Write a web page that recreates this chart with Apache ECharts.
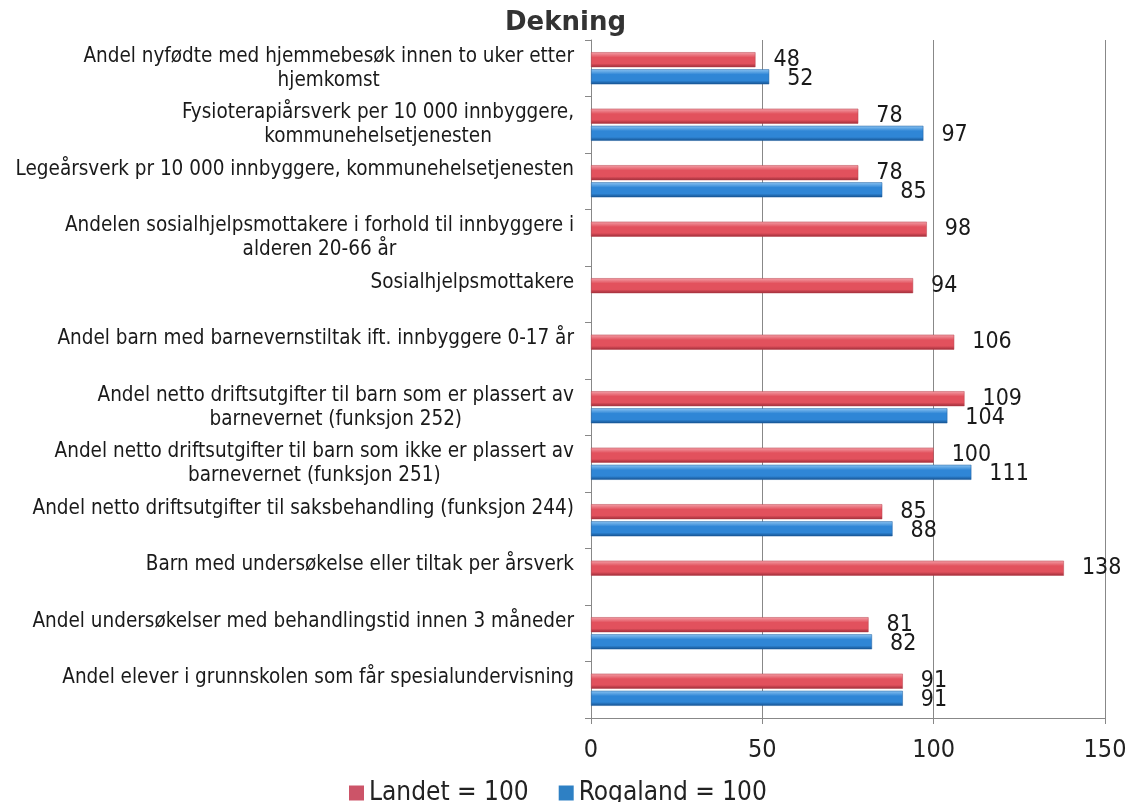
<!DOCTYPE html>
<html>
<head>
<meta charset="utf-8">
<script src="https://cdn.jsdelivr.net/npm/echarts@6/dist/echarts.min.js"></script>
<style>
    html, body {margin: 0; padding: 0; background: #fff;}
    #chart {width: 1130px; height: 802px;}
</style>
</head>
<body>
<div id="chart"></div>
<script>
// kategorier, ovenfra og ned
var categories = [
    'Andel nyfødte med hjemmebesøk innen to uker etter\nhjemkomst',
    'Fysioterapiårsverk per 10 000 innbyggere,\nkommunehelsetjenesten',
    'Legeårsverk pr 10 000 innbyggere, kommunehelsetjenesten',
    'Andelen sosialhjelpsmottakere i forhold til innbyggere i\nalderen 20-66 år',
    'Sosialhjelpsmottakere',
    'Andel barn med barnevernstiltak ift. innbyggere 0-17 år',
    'Andel netto driftsutgifter til barn som er plassert av\nbarnevernet (funksjon 252)',
    'Andel netto driftsutgifter til barn som ikke er plassert av\nbarnevernet (funksjon 251)',
    'Andel netto driftsutgifter til saksbehandling (funksjon 244)',
    'Barn med undersøkelse eller tiltak per årsverk',
    'Andel undersøkelser med behandlingstid innen 3 måneder',
    'Andel elever i grunnskolen som får spesialundervisning'
];
var landet = [48, 78, 78, 98, 94, 106, 109, 100, 85, 138, 81, 91];
var rogaland = [52, 97, 85, null, null, null, 104, 111, 88, null, 82, 91];
var seriesNames = ['Landet = 100', 'Rogaland = 100'];
var xTicks = [0, 50, 100, 150];

var font = 'Tahoma, "DejaVu Sans Condensed", "DejaVu Sans", sans-serif';

function grad(light, mid, dark) {
    //liten 3D-effekt på stolpene
    return new echarts.graphic.LinearGradient(0, 0, 0, 1, [
        {offset: 0, color: light},
        {offset: 0.35, color: mid},
        {offset: 0.75, color: mid},
        {offset: 1, color: dark}
    ]);
}

var myChart = echarts.init(document.getElementById('chart'));
var option = {
    animation: false,
    title: {
        text: 'Dekning',
        left: 500,
        top: 5,
        textStyle: {fontFamily: '"DejaVu Sans", sans-serif', fontWeight: 'bold', fontSize: 26, color: '#333'}
    },
    legend: {
        data: [
            {name: seriesNames[0], itemStyle: {color: '#cc5468', borderWidth: 0}},
            {name: seriesNames[1], itemStyle: {color: '#2e80c4', borderWidth: 0}}
        ],
        left: 344,
        top: 775,
        itemWidth: 15,
        itemHeight: 15,
        itemGap: 30,
        icon: 'rect',
        textStyle: {fontFamily: font, fontSize: 26, color: '#222'}
    },
    grid: {left: 591, right: 25, top: 40, bottom: 84},
    xAxis: {
        type: 'value',
        min: xTicks[0],
        max: xTicks[xTicks.length - 1],
        interval: 50,
        axisLine: {show: true, lineStyle: {color: '#888'}},
        axisTick: {show: true, length: 6, lineStyle: {color: '#888'}},
        splitLine: {show: true, lineStyle: {color: '#888', width: 1}},
        axisLabel: {margin: 20, fontFamily: font, fontSize: 25, color: '#222'}
    },
    yAxis: {
        type: 'category',
        inverse: true,
        data: categories,
        axisLine: {show: true, lineStyle: {color: '#888'}},
        axisTick: {show: true, length: 6, lineStyle: {color: '#888'}},
        axisLabel: {
            margin: 17,
            formatter: function (v) {
                var lines = v.split('\n');
                var out = lines.map(function (l) { return '{c|' + l + '}'; });
                if (lines.length == 1) out.push('{c| }');
                return out.join('\n');
            },
            rich: {
                c: {align: 'center', fontFamily: font, fontSize: 20.5, lineHeight: 24, color: '#1a1a1a'}
            }
        }
    },
    series: [
        {
            name: seriesNames[0],
            type: 'bar',
            data: landet,
            barWidth: 15,
            barGap: '14%',
            itemStyle: {
                color: grad('#f3a0a8', '#e2515d', '#9c2c38'),
                borderColor: '#b8404c',
                borderWidth: 0.5
            },
            label: {
                show: true,
                position: 'right',
                distance: 18,
                offset: [0, 0],
                fontFamily: font,
                fontSize: 23,
                color: '#1a1a1a'
            }
        },
        {
            name: seriesNames[1],
            type: 'bar',
            data: rogaland,
            barWidth: 15,
            itemStyle: {
                color: grad('#8cc4f2', '#2f86d6', '#14508e'),
                borderColor: '#1e5e9e',
                borderWidth: 0.5
            },
            label: {
                show: true,
                position: 'right',
                distance: 18,
                offset: [0, 2],
                fontFamily: font,
                fontSize: 23,
                color: '#1a1a1a'
            }
        }
    ],
    color: ['#cc5468', '#2e80c4']
};
myChart.setOption(option);
</script>
</body>
</html>
